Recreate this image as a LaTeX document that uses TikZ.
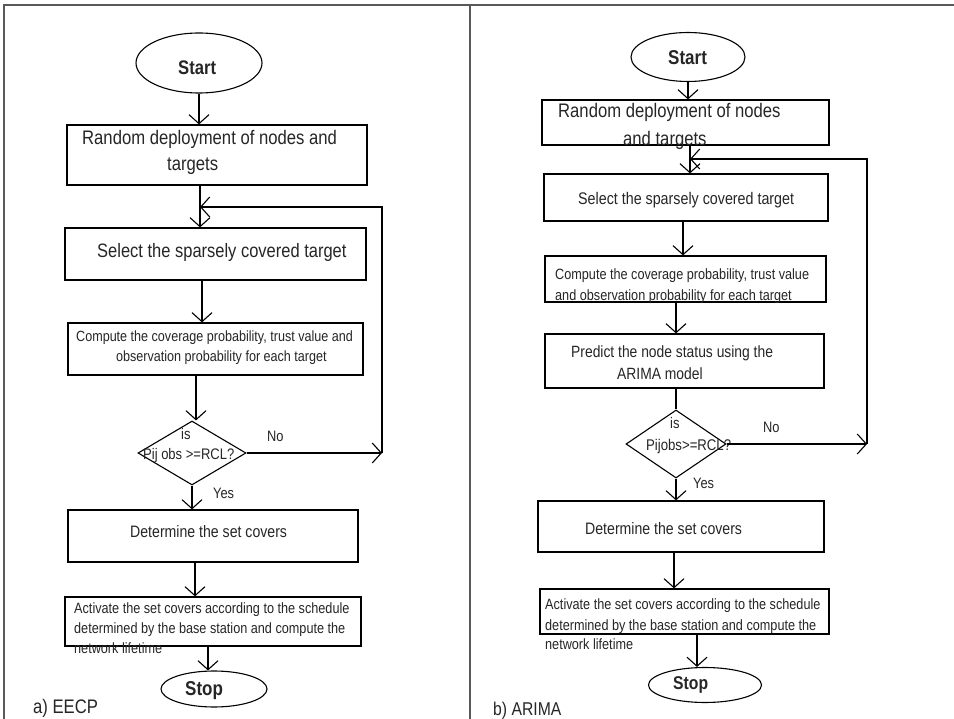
\documentclass[tikz,border=0pt]{standalone}
\usepackage{fontspec}
\setmainfont{Liberation Sans}
\usetikzlibrary{shapes.geometric,arrows.meta}
% narrow the lettering slightly, as in the drawn flowcharts
\newcommand{\sq}[1]{\scalebox{0.85}[1]{#1}}
\begin{document}
\begin{tikzpicture}[x=1pt,y=-1pt,
  flowbox/.style={draw, line width=1.2pt, inner sep=0pt},
  termbox/.style={draw, ellipse, line width=1.1pt, inner sep=0pt},
  decbox/.style={draw, diamond, line width=1.1pt, inner sep=0pt},
  arr/.style={line width=1.1pt, -{Straight Barb[length=9pt,width=20pt]}},
  plain/.style={line width=1.1pt},
  frameline/.style={draw=black!65, line width=1.6pt},
  lbl/.style={inner sep=0pt, anchor=base west, text=black!85},
  fs/.style={font=\fontsize{#1}{#1}\selectfont},
  fsb/.style={font=\bfseries\fontsize{#1}{#1}\selectfont}
]
\useasboundingbox (0,0) rectangle (954,719);
\fill[white] (0,0) rectangle (954,719);

% panel frame
\draw[frameline] (4,719) -- (4,5) -- (954,5);
\draw[frameline] (470,5) -- (470,719);

% ---------------- a) EECP ----------------
\node[termbox, minimum width=126pt, minimum height=60pt] (startL) at (199,63) {};
\node[flowbox, minimum width=300pt, minimum height=60pt] (b1L) at (217,155) {};
\node[flowbox, minimum width=301pt, minimum height=52pt] (b2L) at (215.5,254) {};
\node[flowbox, minimum width=295pt, minimum height=52pt] (b3L) at (215.5,349) {};
\node[decbox, minimum width=108pt, minimum height=64pt] (dL) at (192,453) {};
\node[flowbox, minimum width=290pt, minimum height=52pt] (b4L) at (213,536) {};
\node[flowbox, minimum width=296pt, minimum height=49pt] (b5L) at (213,621.5) {};
\node[termbox, minimum width=106pt, minimum height=36pt] (stopL) at (214,689) {};

\node[lbl, fsb=19.6] (tStartL) at (178,75) {\sq{Start}};
\node[lbl, fs=19.6] (tL1a) at (82,145) {\sq{Random deployment of nodes and}};
\node[lbl, fs=19.6] (tL1b) at (167,171) {\sq{targets}};
\node[lbl, fs=19.4] (tL2) at (97,258) {\sq{Select the sparsely covered target}};
\node[lbl, fs=14.8] (tL3a) at (76,342) {\sq{Compute the coverage probability, trust value and}};
\node[lbl, fs=14.8] (tL3b) at (116,362) {\sq{observation probability for each target}};
\node[lbl, fs=15.3] (tLis) at (181,440) {\sq{is}};
\node[lbl, fs=15.3] (tLq) at (143,460) {\sq{Pij obs >=RCL?}};
\node[lbl, fs=15.1] (tLno) at (267,442) {\sq{No}};
\node[lbl, fs=15.1] (tLyes) at (213,498) {\sq{Yes}};
\node[lbl, fs=16.6] (tL4) at (130,537) {\sq{Determine the set covers}};
\node[lbl, fs=14.9] (tL5a) at (74,613) {\sq{Activate the set covers according to the schedule}};
\node[lbl, fs=14.9] (tL5b) at (74,633) {\sq{determined by the base station and compute the}};
\node[lbl, fs=14.9] (tL5c) at (74,653) {\sq{network lifetime}};
\node[lbl, fsb=20] (tStopL) at (185,695) {\sq{Stop}};
\node[lbl, fs=19.6] (capL) at (33,713) {\sq{a) EECP}};

\coordinate (cL) at (382,207);
\coordinate (jL) at (200,207);
\draw[arr] (startL.south) -- (startL.south |- b1L.north);
\draw[arr] ([xshift=-17pt]b1L.south) -- ([xshift=-17pt]b1L.south |- b2L.north);
\draw[arr] ([xshift=-13.5pt]b2L.south) -- ([xshift=-13.5pt]b2L.south |- b3L.north);
\draw[arr] ([xshift=-19.5pt]b3L.south) -- ([xshift=-19.5pt]b3L.south |- dL.north);
\draw[arr] (dL.south) -- (dL.south |- b4L.north);
\draw[arr] ([xshift=-18pt]b4L.south) -- ([xshift=-18pt]b4L.south |- b5L.north);
\draw[arr] ([xshift=-5pt]b5L.south) -- ([xshift=-5pt]b5L.south |- stopL.north);
\draw[arr] (dL.east) -- (dL.east -| cL);
\draw[arr] (dL.east -| cL) -- (cL) -- (jL);

% ---------------- b) ARIMA ----------------
\node[termbox, minimum width=114pt, minimum height=49pt] (startR) at (688,57) {};
\node[flowbox, minimum width=287pt, minimum height=45pt] (b1R) at (685.5,122.5) {};
\node[flowbox, minimum width=284pt, minimum height=47pt] (b2R) at (686,197.5) {};
\node[flowbox, minimum width=281pt, minimum height=46pt] (b3R) at (685.5,279) {};
\node[flowbox, minimum width=279pt, minimum height=54pt] (b4R) at (684.5,361) {};
\node[decbox, minimum width=100pt, minimum height=68pt] (dR) at (676,444) {};
\node[flowbox, minimum width=286pt, minimum height=51pt] (b5R) at (681,526.5) {};
\node[flowbox, minimum width=289pt, minimum height=45pt] (b6R) at (684.5,611.5) {};
\node[termbox, minimum width=113pt, minimum height=35pt] (stopR) at (705,685) {};

\node[lbl, fsb=20] (tStartR) at (668,65) {\sq{Start}};
\node[lbl, fs=19.6] (tR1a) at (558,118) {\sq{Random deployment of nodes}};
\node[lbl, fs=19.6] (tR1b) at (623,146) {\sq{and targets}};
\node[lbl, fs=16.8] (tR2) at (578,205) {\sq{Select the sparsely covered target}};
\node[lbl, fs=14.9] (tR3a) at (555,280) {\sq{Compute the coverage probability, trust value}};
\node[lbl, fs=14.9] (tR3b) at (555,301) {\sq{and observation probability for each target}};
\node[lbl, fs=16.3] (tR4a) at (571,358) {\sq{Predict the node status using the}};
\node[lbl, fs=16.3] (tR4b) at (617,380) {\sq{ARIMA model}};
\node[lbl, fs=15.3] (tRis) at (670,429) {\sq{is}};
\node[lbl, fs=15.5] (tRq) at (646,450) {\sq{Pijobs>=RCL?}};
\node[lbl, fs=15.1] (tRno) at (763,433) {\sq{No}};
\node[lbl, fs=15.1] (tRyes) at (693,488) {\sq{Yes}};
\node[lbl, fs=16.6] (tR5) at (585,534) {\sq{Determine the set covers}};
\node[lbl, fs=14.9] (tR6a) at (545,609) {\sq{Activate the set covers according to the schedule}};
\node[lbl, fs=14.9] (tR6b) at (545,630) {\sq{determined by the base station and compute the}};
\node[lbl, fs=14.9] (tR6c) at (545,649) {\sq{network lifetime}};
\node[lbl, fsb=18.5] (tStopR) at (673,689) {\sq{Stop}};
\node[lbl, fs=18.5] (capR) at (493,715) {\sq{b) ARIMA}};

\coordinate (cR) at (867,159);
\coordinate (jR) at (690,159);
\draw[arr] (startR.south) -- (startR.south |- b1R.north);
\draw[arr] ([xshift=4.5pt]b1R.south) -- ([xshift=4.5pt]b1R.south |- b2R.north);
\draw[arr] ([xshift=-3pt]b2R.south) -- ([xshift=-3pt]b2R.south |- b3R.north);
\draw[arr] ([xshift=-9.5pt]b3R.south) -- ([xshift=-9.5pt]b3R.south |- b4R.north);
\draw[plain] (b4R.south -| dR.north) -- (dR.north);
\draw[arr] (dR.south) -- (dR.south |- b5R.north);
\draw[arr] ([xshift=-7pt]b5R.south) -- ([xshift=-7pt]b5R.south |- b6R.north);
\draw[arr] ([xshift=12.5pt]b6R.south) -- ([xshift=12.5pt]b6R.south |- stopR.north);
\draw[arr] (dR.east) -- (dR.east -| cR);
\draw[arr] (dR.east -| cR) -- (cR) -- (jR);
\end{tikzpicture}
\end{document}
